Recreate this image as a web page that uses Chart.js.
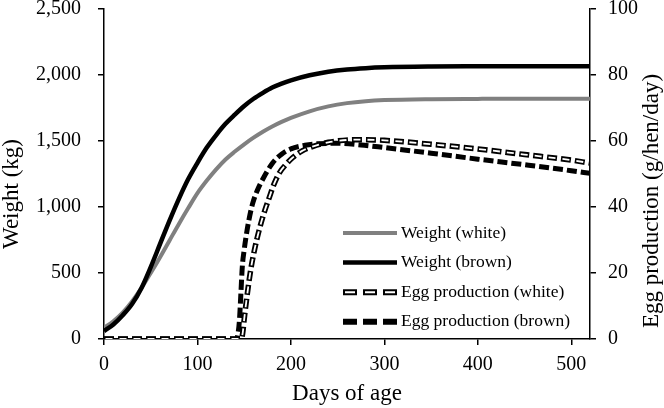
<!DOCTYPE html>
<html>
<head>
<meta charset="utf-8">
<script src="https://cdn.jsdelivr.net/npm/chart.js@4.4.1/dist/chart.umd.min.js"></script>
<style>
    html, body { margin: 0; padding: 0; background: #fff; }
    #caixa { width: 664px; height: 408px; }
</style>
</head>
<body>
<div id="caixa"><canvas id="graficoPeso"></canvas></div>
<script>
// dados
const diasPeso = [0, 10, 20, 30, 40, 50, 60, 70, 80, 90, 100, 110, 120, 130, 140, 150, 160, 170, 180, 190, 200, 220, 240, 260, 280, 300, 350, 400, 450, 520];
const pesoBranca = [85, 135, 200, 285, 385, 500, 620, 745, 870, 990, 1105, 1200, 1285, 1360, 1420, 1475, 1525, 1570, 1610, 1645, 1675, 1725, 1762, 1787, 1802, 1810, 1817, 1819, 1820, 1820];
const pesoMarrom = [60, 110, 180, 265, 385, 545, 720, 895, 1060, 1210, 1335, 1450, 1545, 1630, 1700, 1765, 1820, 1865, 1905, 1935, 1960, 1998, 2025, 2042, 2052, 2058, 2064, 2066, 2067, 2067];

const diasOvoBranca = [0, 147, 148.5, 150, 153, 157, 161, 166, 171, 177, 182, 188, 195, 202, 212, 223, 240, 270, 300, 350, 400, 450, 500, 520];
const ovoBranca = [0, 0, 2, 6, 13, 21, 27, 33, 38, 43, 47, 50.5, 53, 55, 57, 58.3, 59.6, 60.4, 60.2, 59, 57.6, 55.9, 54.2, 53.3];

const diasOvoMarrom = [0, 141, 143, 145, 146.5, 148, 150, 152, 155, 159, 164, 170, 180, 190, 200, 215, 230, 250, 275, 300, 350, 400, 450, 500, 520];
const ovoMarrom = [0, 0, 1, 6, 14, 22, 27, 31, 36, 41, 45, 48.5, 53.2, 56, 57.6, 58.7, 59.2, 59.3, 58.8, 58, 56.3, 54.5, 52.8, 51, 50.2];

const ticksDias = [0, 100, 200, 300, 400, 500];

const fonte = '"Liberation Serif", "Times New Roman", serif';

function juntar(xs, ys) {
    return xs.map((x, i) => ({ x: x, y: ys[i] }));
}

// legenda desenhada dentro da area do grafico
const legendaInterna = {
    id: 'legendaInterna',
    afterDraw(chart) {
        const ctx = chart.ctx;
        const x1 = 343, x2 = 397, xTexto = 401;
        let y = 233;
        const passo = 29.6;
        const itens = [
            { texto: 'Weight (white)', tracos: [{ cor: '#808080', largura: 4, dash: [] }] },
            { texto: 'Weight (brown)', tracos: [{ cor: '#000', largura: 4.5, dash: [] }] },
            { texto: 'Egg production (white)', tracos: [{ cor: '#000', largura: 6, dash: [14, 6] }, { cor: '#fff', largura: 2, dash: [10, 10], offset: -2 }] },
            { texto: 'Egg production (brown)', tracos: [{ cor: '#000', largura: 6, dash: [14, 6] }] }
        ];
        ctx.save();
        itens.forEach(item => {
            item.tracos.forEach(t => {
                ctx.beginPath();
                ctx.strokeStyle = t.cor;
                ctx.lineWidth = t.largura;
                ctx.setLineDash(t.dash);
                ctx.lineDashOffset = t.offset || 0;
                ctx.moveTo(x1, y);
                ctx.lineTo(x2, y);
                ctx.stroke();
            });
            ctx.setLineDash([]);
            ctx.fillStyle = '#000';
            ctx.font = '17.5px ' + fonte;
            ctx.textAlign = 'left';
            ctx.textBaseline = 'middle';
            ctx.fillText(item.texto, xTexto, y);
            y += passo;
        });
        ctx.restore();
    }
};

// titulos verticais (centrados como no original)
const titulosEixoY = {
    id: 'titulosEixoY',
    afterDraw(chart) {
        const ctx = chart.ctx;
        ctx.save();
        ctx.fillStyle = '#000';
        ctx.font = '23px ' + fonte;
        ctx.textAlign = 'center';
        ctx.textBaseline = 'alphabetic';

        ctx.save();
        ctx.translate(18, 194);
        ctx.rotate(-Math.PI / 2);
        ctx.fillText('Weight (kg)', 0, 0);
        ctx.restore();

        ctx.save();
        ctx.translate(658, 201);
        ctx.rotate(-Math.PI / 2);
        ctx.fillText('Egg production (g/hen/day)', 0, 0);
        ctx.restore();

        ctx.restore();
    }
};

const eixoComum = {
    grid: { drawOnChartArea: false, drawTicks: true, tickLength: 6, color: '#000', lineWidth: 1.5 },
    border: { display: true, color: '#000', width: 1.5 }
};

const canva = document.getElementById('graficoPeso').getContext('2d');
const grafico = new Chart(canva, {
    type: 'line',
    data: {
        datasets: [
            {
                label: 'Weight (white)',
                data: juntar(diasPeso, pesoBranca),
                borderColor: '#808080',
                borderWidth: 4,
                yAxisID: 'y',
                order: 3
            },
            {
                label: 'Weight (brown)',
                data: juntar(diasPeso, pesoMarrom),
                borderColor: '#000',
                borderWidth: 4.5,
                yAxisID: 'y',
                order: 2
            },
            {
                label: 'Egg production (white)',
                data: juntar(diasOvoBranca, ovoBranca),
                borderColor: '#000',
                borderWidth: 5.5,
                borderDash: [10, 4],
                yAxisID: 'y1',
                order: 1
            },
            {
                // miolo branco do tracejado
                label: 'miolo',
                data: juntar(diasOvoBranca, ovoBranca),
                borderColor: '#fff',
                borderWidth: 1.8,
                borderDash: [7, 7],
                borderDashOffset: -1.5,
                yAxisID: 'y1',
                order: 0
            },
            {
                label: 'Egg production (brown)',
                data: juntar(diasOvoMarrom, ovoMarrom),
                borderColor: '#000',
                borderWidth: 5,
                borderDash: [10, 4],
                yAxisID: 'y1',
                order: 1
            }
        ]
    },
    options: {
        responsive: true,
        maintainAspectRatio: false,
        animation: false,
        devicePixelRatio: 1,
        layout: { padding: { top: 9, left: 0, right: 0, bottom: 0 } },
        elements: {
            point: { radius: 0 },
            line: { cubicInterpolationMode: 'monotone', borderCapStyle: 'butt' }
        },
        plugins: {
            legend: { display: false },
            tooltip: { enabled: false }
        },
        scales: {
            x: {
                ...eixoComum,
                type: 'linear',
                min: 0,
                max: 520,
                afterBuildTicks: (escala) => { escala.ticks = ticksDias.map(v => ({ value: v })); },
                ticks: { color: '#000', font: { family: fonte, size: 20 }, padding: 8 },
                title: { display: true, text: 'Days of age', color: '#000', font: { family: fonte, size: 23 }, padding: 0 },
                afterFit: (escala) => { escala.height = 69; escala.paddingLeft = 0; escala.paddingRight = 0; }
            },
            y: {
                ...eixoComum,
                position: 'left',
                min: 0,
                max: 2500,
                ticks: {
                    stepSize: 500,
                    color: '#000',
                    font: { family: fonte, size: 20 },
                    padding: 17,
                    callback: (v) => v.toLocaleString('en-US')
                },
                afterFit: (escala) => { escala.width = 104; escala.paddingTop = 0; escala.paddingBottom = 0; }
            },
            y1: {
                ...eixoComum,
                position: 'right',
                min: 0,
                max: 100,
                ticks: { stepSize: 20, color: '#000', font: { family: fonte, size: 20 }, padding: 12 },
                afterFit: (escala) => { escala.width = 74; escala.paddingTop = 0; escala.paddingBottom = 0; }
            }
        }
    },
    plugins: [legendaInterna, titulosEixoY]
});
</script>
</body>
</html>
